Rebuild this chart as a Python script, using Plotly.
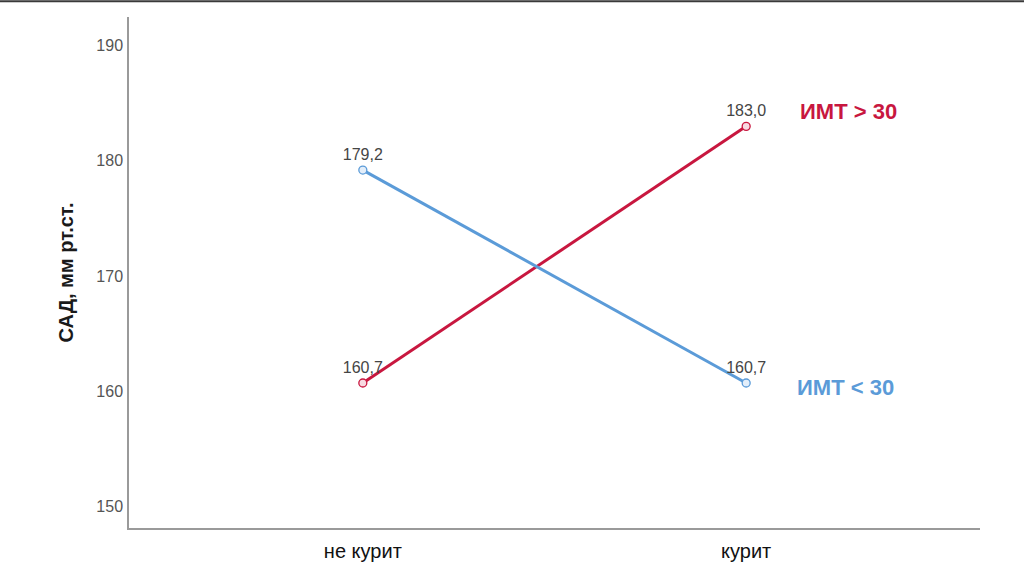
import plotly.graph_objects as go

# data
categories = ["не курит", "курит"]
series_names = ["ИМТ > 30", "ИМТ < 30"]
bmi_over_30 = [160.7, 183.0]
bmi_under_30 = [179.2, 160.7]
y_ticks = [150, 160, 170, 180, 190]

colors = ["#c8173f", "#5b9bd8"]
fills = ["#f8dae2", "#e3eefa"]
label_shift = [(52, 15), (49, -5)]


def fmt(v):
    return f"{v:.1f}".replace(".", ",")


fig = go.Figure()

for name, vals, col, fill, (dx, dy) in zip(series_names, [bmi_over_30, bmi_under_30],
                                           colors, fills, label_shift):
    fig.add_trace(go.Scatter(
        x=categories, y=vals,
        mode="lines+markers+text",
        name=name,
        line=dict(color=col, width=3),
        marker=dict(symbol="circle", size=8, color=fill, line=dict(color=col, width=1.3)),
        text=[fmt(v) for v in vals],
        textposition="top center",
        textfont=dict(family="Liberation Sans, Arial", size=16, color="#454545"),
        cliponaxis=False,
        hoverinfo="skip",
    ))
    # series label at the right end of the line
    fig.add_annotation(
        x=categories[-1], y=vals[-1], text=f"<b>{name}</b>",
        showarrow=False, xanchor="left", yanchor="middle",
        xshift=dx, yshift=dy,
        font=dict(family="Liberation Sans, Arial", size=22, color=col),
    )

# thin dark border line at the very top of the image
fig.add_shape(type="line", xref="paper", yref="paper",
              x0=-0.16, x1=1.06, y0=1.031, y1=1.031,
              line=dict(color="#3a3a3a", width=2))

fig.update_layout(
    width=1024, height=575,
    margin=dict(l=129, r=44, t=17, b=47),
    plot_bgcolor="white", paper_bgcolor="white",
    showlegend=False,
    font=dict(family="Liberation Sans, Arial"),
    xaxis=dict(
        type="category", range=[-0.61, 1.61],
        showline=True, linecolor="#9a9a9a", linewidth=1.5,
        showgrid=False, ticks="",
        ticklabelstandoff=4,
        tickfont=dict(size=20, color="#111111"),
    ),
    yaxis=dict(
        range=[148.1, 192.5],
        tickvals=y_ticks,
        showline=True, linecolor="#9a9a9a", linewidth=1.5,
        showgrid=False, zeroline=False, ticks="",
        ticklabelstandoff=1,
        tickfont=dict(size=16, color="#555555"),
        title=dict(text="<b>САД, мм рт.ст.</b>", font=dict(size=20, color="#1a1a1a"), standoff=17),
    ),
)

fig.write_html("out.html", config={"displayModeBar": False},
               post_script="document.body.style.margin='0px';")
